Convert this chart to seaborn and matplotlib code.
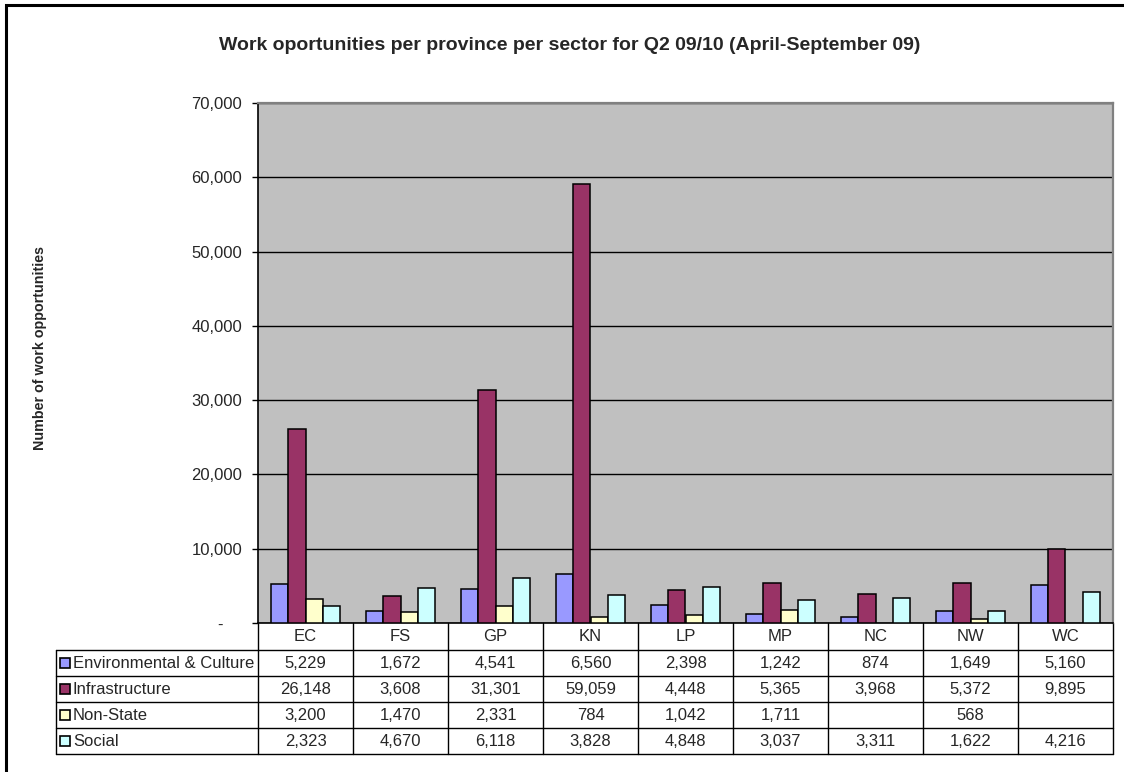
import numpy as np
import pandas as pd
import matplotlib
matplotlib.use("Agg")
import matplotlib.pyplot as plt
import seaborn as sns
from matplotlib.ticker import FuncFormatter
from matplotlib.patches import Rectangle
from matplotlib.lines import Line2D
from matplotlib.transforms import blended_transform_factory

# ---- data ----
provinces = ["EC", "FS", "GP", "KN", "LP", "MP", "NC", "NW", "WC"]
sectors = ["Environmental & Culture", "Infrastructure", "Non-State", "Social"]
env_culture = [5229, 1672, 4541, 6560, 2398, 1242, 874, 1649, 5160]
infrastructure = [26148, 3608, 31301, 59059, 4448, 5365, 3968, 5372, 9895]
non_state = [3200, 1470, 2331, 784, 1042, 1711, np.nan, 568, np.nan]
social = [2323, 4670, 6118, 3828, 4848, 3037, 3311, 1622, 4216]
sector_colors = ["#9999FF", "#993366", "#FFFFCC", "#CCFFFF"]

series = [env_culture, infrastructure, non_state, social]
df = pd.DataFrame(
    [(p, s, v) for s, vals in zip(sectors, series) for p, v in zip(provinces, vals)],
    columns=["Province", "Sector", "Value"],
)

sns.set_style("white")
plt.rcParams["font.family"] = ["Liberation Sans", "DejaVu Sans"]

W, H = 1124, 772
fig = plt.figure(figsize=(W / 100, H / 100), dpi=100)
fig.patch.set_facecolor("white")


def fx(px):
    return px / W


def fy(py):
    return 1 - py / H


# plot area in pixel units
P_LEFT, P_RIGHT, P_TOP, P_BOTTOM = 258, 1113, 103, 623
ax = fig.add_axes([fx(P_LEFT), fy(P_BOTTOM), fx(P_RIGHT) - fx(P_LEFT), fy(P_TOP) - fy(P_BOTTOM)])
ax.set_facecolor("#C0C0C0")

sns.barplot(
    data=df, x="Province", y="Value", hue="Sector",
    order=provinces, hue_order=sectors, palette=sector_colors,
    saturation=1, width=0.73, edgecolor="black", linewidth=1.1,
    errorbar=None, legend=False, ax=ax, zorder=3,
)

ax.set_xlim(-0.5, len(provinces) - 0.5)
ax.set_ylim(0, 70000)
ax.set_yticks(np.arange(0, 70001, 10000))
ax.yaxis.set_major_formatter(FuncFormatter(lambda v, _: "-    " if v == 0 else f"{v:,.0f}"))
ax.tick_params(axis="y", direction="out", length=4, width=1, color="black",
               labelsize=12, pad=7.5, left=True)
ax.set_xticks([])
ax.set_xlabel("")
ax.set_ylabel("")
ax.yaxis.grid(True, color="black", linewidth=1)
ax.set_axisbelow(True)
for side in ["left", "bottom"]:
    ax.spines[side].set_color("black")
    ax.spines[side].set_linewidth(1.2)
for side in ["top", "right"]:
    ax.spines[side].set_color("#808080")
    ax.spines[side].set_linewidth(1.6)

# titles
fig.text(fx(570), fy(45), "Work oportunities per province per sector for Q2 09/10 (April-September 09)",
         ha="center", va="center", fontsize=14, fontweight="bold")
fig.text(fx(40), fy(348), "Number of work opportunities", rotation=90,
         ha="center", va="center", fontsize=10.3, fontweight="bold")

# ---- data table below the plot ----
trans = blended_transform_factory(ax.transData, fig.transFigure)
row_edges = [623, 650, 676, 702, 728, 754]
LABEL_LEFT = 56
TABLE_FS = 12
line_kw = dict(color="black", linewidth=1, clip_on=False)

# vertical column lines
for i in range(len(provinces) + 1):
    ax.add_line(Line2D([i - 0.5, i - 0.5], [fy(row_edges[0]), fy(row_edges[-1])],
                       transform=trans, **line_kw))
# horizontal row lines
for r in row_edges[1:]:
    fig.add_artist(Line2D([fx(LABEL_LEFT), fx(P_RIGHT)], [fy(r), fy(r)],
                          transform=fig.transFigure, color="black", linewidth=1))
fig.add_artist(Line2D([fx(LABEL_LEFT), fx(LABEL_LEFT)], [fy(row_edges[1]), fy(row_edges[-1])],
                      transform=fig.transFigure, color="black", linewidth=1))

# header
hy = fy((row_edges[0] + row_edges[1]) / 2)
for i, p in enumerate(provinces):
    ax.text(i, hy, p, transform=trans, ha="center", va="center", fontsize=TABLE_FS, clip_on=False)

# rows
for k, (name, vals, col) in enumerate(zip(sectors, series, sector_colors)):
    cy = (row_edges[k + 1] + row_edges[k + 2]) / 2
    fig.add_artist(Rectangle((fx(60), fy(cy + 5)), fx(10), 10 / H,
                             transform=fig.transFigure, facecolor=col,
                             edgecolor="black", linewidth=1.2))
    fig.text(fx(73), fy(cy), name, ha="left", va="center", fontsize=TABLE_FS)
    for i, v in enumerate(vals):
        txt = "" if pd.isna(v) else f"{int(v):,}"
        ax.text(i, fy(cy), txt, transform=trans, ha="center", va="center",
                fontsize=TABLE_FS, clip_on=False)

# outer chart frame
fig.add_artist(Rectangle((fx(6), fy(H + 20)), 1.2, (H + 15) / H, transform=fig.transFigure,
                         fill=False, edgecolor="black", linewidth=2.2))

fig.savefig("out.png", dpi=100)
